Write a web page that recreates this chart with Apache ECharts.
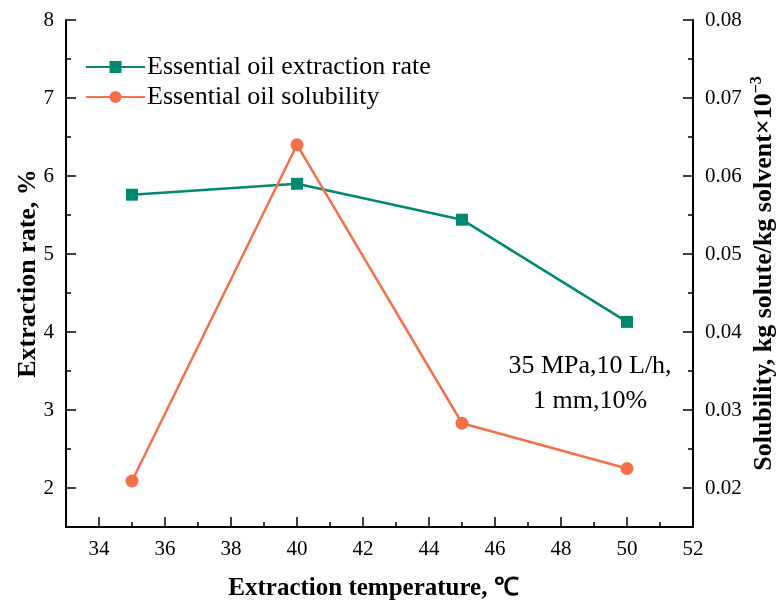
<!DOCTYPE html>
<html>
<head>
<meta charset="utf-8">
<script src="https://cdn.jsdelivr.net/npm/echarts@6/dist/echarts.min.js"></script>
<style>html,body{margin:0;padding:0;background:#fff;}#c{width:781px;height:601px;}</style>
</head>
<body>
<div id="c"></div>
<script>
var temperatures = [35, 40, 45, 50];
var extractionRate = [5.76, 5.90, 5.44, 4.13];
var solubility = [0.0209, 0.0640, 0.0283, 0.0225];
var xTicks = [34, 36, 38, 40, 42, 44, 46, 48, 50, 52];
var leftTicks = [2, 3, 4, 5, 6, 7, 8];
var rightTicks = [0.02, 0.03, 0.04, 0.05, 0.06, 0.07, 0.08];
var seriesNames = ['Essential oil extraction rate', 'Essential oil solubility'];
var noteText = '35 MPa,10 L/h,\n1 mm,10%';

var FONT = '"Liberation Serif", "Times New Roman", serif';
var TEAL = '#00896f';
var ORANGE = '#f57046';

var chart = echarts.init(document.getElementById('c'));

function pairs(xs, ys) { return xs.map(function (x, i) { return [x, ys[i]]; }); }

chart.setOption({
  animation: false,
  backgroundColor: '#fff',
  grid: {left: 66, right: 88, top: 20, bottom: 74, containLabel: false, outerBoundsMode: 'none'},
  legend: {
    orient: 'vertical', left: 80, top: 49, itemWidth: 59, itemHeight: 15, itemGap: 4,
    textStyle: {fontFamily: FONT, fontSize: 26, lineHeight: 26, color: '#000', padding: [0, 0, 0, -3]},
    data: seriesNames
  },
  xAxis: [{
    type: 'value', min: 33, max: 52,
    name: 'Extraction temperature, ℃', nameLocation: 'middle', nameGap: 49, nameMoveOverlap: false,
    nameTextStyle: {fontFamily: FONT, fontSize: 25, fontWeight: 'bold', color: '#000', padding: [0, 12, 0, 0]},
    axisLine: {show: true, onZero: false, lineStyle: {color: '#000', width: 2}},
    axisTick: {show: true, inside: true, length: 10, lineStyle: {color: '#000', width: 1.5}, customValues: xTicks},
    axisLabel: {customValues: xTicks, fontFamily: FONT, fontSize: 21, color: '#000', margin: 12},
    splitLine: {show: false}
  }, {
    type: 'value', min: 33, max: 52, interval: 1, position: 'bottom',
    axisLine: {show: false}, axisLabel: {show: false}, splitLine: {show: false},
    axisTick: {show: true, inside: true, length: 5, lineStyle: {color: '#000', width: 1.5}}
  }],
  yAxis: [{
    type: 'value', min: 1.5, max: 8, position: 'left',
    name: 'Extraction rate, %', nameLocation: 'middle', nameGap: 25, nameRotate: 90, nameMoveOverlap: false,
    nameTextStyle: {fontFamily: FONT, fontSize: 26, fontWeight: 'bold', color: '#000'},
    axisLine: {show: true, onZero: false, lineStyle: {color: '#000', width: 2}},
    axisTick: {show: true, inside: true, length: 10, lineStyle: {color: '#000', width: 1.5}, customValues: leftTicks},
    axisLabel: {customValues: leftTicks, fontFamily: FONT, fontSize: 21, color: '#000', margin: 12},
    splitLine: {show: false}
  }, {
    type: 'value', min: 0.015, max: 0.08, position: 'right',
    name: 'Solubility, kg solute/kg solvent×10{sup|−3}', nameLocation: 'middle', nameGap: 56, nameRotate: 90, nameMoveOverlap: false,
    nameTextStyle: {fontFamily: FONT, fontSize: 26, fontWeight: 'bold', color: '#000',
      rich: {sup: {fontFamily: FONT, fontSize: 16, fontWeight: 'bold', color: '#000', verticalAlign: 'top', padding: [0, 0, 14, 0]}}},
    axisLine: {show: true, onZero: false, lineStyle: {color: '#000', width: 2}},
    axisTick: {show: true, inside: true, length: 10, lineStyle: {color: '#000', width: 1.5}, customValues: rightTicks},
    axisLabel: {customValues: rightTicks, fontFamily: FONT, fontSize: 21, color: '#000', margin: 12,
      formatter: function (v) { return v.toFixed(2); }},
    splitLine: {show: false}
  }, {
    type: 'value', min: 1.5, max: 8, interval: 0.5, position: 'left',
    axisLine: {show: false}, axisLabel: {show: false}, splitLine: {show: false},
    axisTick: {show: true, inside: true, length: 5, lineStyle: {color: '#000', width: 1.5}}
  }, {
    type: 'value', min: 0.015, max: 0.08, interval: 0.005, position: 'right',
    axisLine: {show: false}, axisLabel: {show: false}, splitLine: {show: false},
    axisTick: {show: true, inside: true, length: 5, lineStyle: {color: '#000', width: 1.5}}
  }],
  graphic: [{
    type: 'text', x: 590, y: 384,
    style: {text: noteText, fontFamily: FONT, fontSize: 26, fill: '#000', align: 'center', verticalAlign: 'middle', lineHeight: 35}
  }],
  series: [{
    name: seriesNames[0], type: 'line', xAxisIndex: 0, yAxisIndex: 0,
    data: pairs(temperatures, extractionRate),
    symbol: 'rect', symbolSize: 12,
    lineStyle: {color: TEAL, width: 2.5}, itemStyle: {color: TEAL}
  }, {
    name: seriesNames[1], type: 'line', xAxisIndex: 0, yAxisIndex: 1,
    data: pairs(temperatures, solubility),
    symbol: 'circle', symbolSize: 13,
    lineStyle: {color: ORANGE, width: 2.5}, itemStyle: {color: ORANGE}
  }]
});
</script>
</body>
</html>
